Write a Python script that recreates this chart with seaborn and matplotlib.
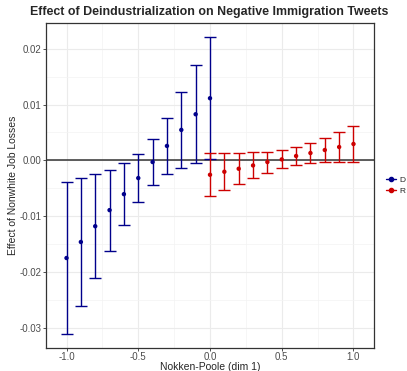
import numpy as np
import pandas as pd
import seaborn as sns
import matplotlib.pyplot as plt
from matplotlib.lines import Line2D

# values
np_dem = [-1.0, -0.9, -0.8, -0.7, -0.6, -0.5, -0.4, -0.3, -0.2, -0.1, 0.0]
est_dem = [-0.01747, -0.0146, -0.01178, -0.0089, -0.00604, -0.00316, -0.00029, 0.00259, 0.00546, 0.00826, 0.01113]
lo_dem = [-0.0311, -0.0260, -0.02106, -0.01616, -0.01149, -0.00741, -0.00436, -0.00251, -0.00131, -0.00047, 0.00025]
hi_dem = [-0.00388, -0.00323, -0.00251, -0.00167, -0.00054, 0.00108, 0.00377, 0.00761, 0.01221, 0.01706, 0.02208]

np_rep = [0.0, 0.1, 0.2, 0.3, 0.4, 0.5, 0.6, 0.7, 0.8, 0.9, 1.0]
est_rep = [-0.00257, -0.00203, -0.00149, -0.0009, -0.00029, 0.00018, 0.00079, 0.00132, 0.00186, 0.0024, 0.00294]
lo_rep = [-0.00646, -0.00532, -0.00425, -0.00323, -0.00221, -0.00144, -0.00083, -0.00047, -0.00029, -0.00023, -0.00029]
hi_rep = [0.00132, 0.00132, 0.00132, 0.00144, 0.00156, 0.00186, 0.0024, 0.00312, 0.00402, 0.00503, 0.0061]

df = pd.concat([
    pd.DataFrame({'np': np_dem, 'est': est_dem, 'lo': lo_dem, 'hi': hi_dem, 'party': 'D'}),
    pd.DataFrame({'np': np_rep, 'est': est_rep, 'lo': lo_rep, 'hi': hi_rep, 'party': 'R'}),
])
colors = {'D': '#00008B', 'R': '#CD0000'}

sns.set_theme(style='whitegrid')
plt.rcParams['font.family'] = ['Liberation Sans', 'DejaVu Sans']

fig = plt.figure(figsize=(4.07, 3.71), dpi=100)
ax = fig.add_axes([46 / 407, 1 - 348.3 / 371, (374 - 46) / 407, (348.3 - 23.3) / 371])

ax.axhline(0, color='#333333', lw=1.1, zorder=1)

for party, sub in df.groupby('party'):
    ax.errorbar(sub['np'], sub['est'],
                yerr=[sub['est'] - sub['lo'], sub['hi'] - sub['est']],
                fmt='none', ecolor=colors[party], elinewidth=1.0,
                capsize=4.6, capthick=1.0, zorder=2)

sns.scatterplot(data=df, x='np', y='est', hue='party', palette=colors,
                s=10, marker='o', edgecolor='none', legend=False, ax=ax, zorder=3)

ax.set_xlim(-1.143, 1.143)
ax.set_ylim(-0.03363, 0.02454)
ax.set_xticks([-1.0, -0.5, 0.0, 0.5, 1.0])
ax.set_xticklabels(['-1.0', '-0.5', '0.0', '0.5', '1.0'])
ax.set_yticks([-0.03, -0.02, -0.01, 0.0, 0.01, 0.02])
ax.set_yticklabels(['-0.03', '-0.02', '-0.01', '0.00', '0.01', '0.02'])
ax.set_xticks([-0.75, -0.25, 0.25, 0.75], minor=True)
ax.set_yticks([-0.025, -0.015, -0.005, 0.005, 0.015], minor=True)
ax.grid(which='major', color='#EBEBEB', lw=0.8)
ax.grid(which='minor', color='#F3F3F3', lw=0.5)
ax.tick_params(which='major', length=2, width=0.6, color='#333333',
               labelsize=7, labelcolor='#4D4D4D', pad=1, bottom=True, left=True)
ax.tick_params(which='minor', length=0)
for sp in ax.spines.values():
    sp.set_color('#333333')
    sp.set_linewidth(0.9)

ax.set_xlabel('Nokken-Poole (dim 1)', fontsize=7.5, labelpad=0)
ax.set_ylabel('Effect of Nonwhite Job Losses', fontsize=7.5, labelpad=1.5)
fig.suptitle('Effect of Deindustrialization on Negative Immigration Tweets',
             fontsize=8.9, fontweight='bold', x=0.515, y=0.985)

handles = [Line2D([0], [0], color=colors[p], lw=1, marker='o', markersize=3) for p in ['D', 'R']]
fig.legend(handles, ['D', 'R'], loc='center left', bbox_to_anchor=(0.93, 0.5),
           frameon=False, fontsize=6, handlelength=1.2, handletextpad=0.4, labelspacing=0.4)

fig.savefig('out.png', dpi=100)
